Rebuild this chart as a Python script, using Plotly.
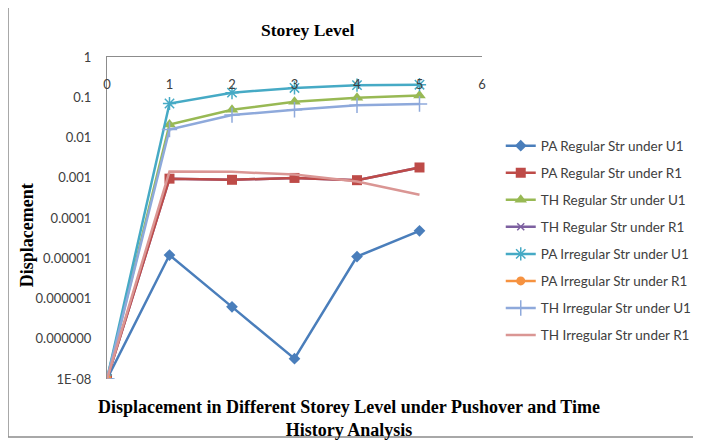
import plotly.graph_objects as go

storey = [0, 1, 2, 3, 4, 5]

pa_reg_u1 = [1e-8, 1.2e-5, 6.2e-7, 3.2e-8, 1.1e-5, 4.8e-5]
pa_reg_r1 = [1e-8, 9.5e-4, 8.9e-4, 9.9e-4, 8.7e-4, 1.8e-3]
th_reg_u1 = [1e-8, 0.021, 0.049, 0.077, 0.097, 0.11]
th_reg_r1 = [1e-8, 9.5e-4, 8.9e-4, 9.9e-4, 8.7e-4, 1.8e-3]
pa_irr_u1 = [1e-8, 0.070, 0.130, 0.170, 0.200, 0.205]
pa_irr_r1 = [1e-8, None, None, None, None, None]
th_irr_u1 = [1e-8, 0.0158, 0.036, 0.049, 0.063, 0.068]
th_irr_r1 = [1e-8, 1.42e-3, 1.40e-3, 1.2e-3, 8.1e-4, 3.8e-4]

names = ["PA Regular Str under U1", "PA Regular Str under R1", "TH Regular Str under U1",
         "TH Regular Str under R1", "PA Irregular Str under U1", "PA Irregular Str under R1",
         "TH Irregular Str under U1", "TH Irregular Str under R1"]

xtickvals = [0, 1, 2, 3, 4, 5, 6]
ytickvals = [1, 0.1, 0.01, 0.001, 0.0001, 0.00001, 0.000001, 0.0000001, 0.00000001]
yticktext = ["1", "0.1", "0.01", "0.001", "0.0001", "0.00001", "0.000001", "0.000000", "1E-08"]

fig = go.Figure()

def add(y, i, color, width, symbol, size, mcolor=None, mline=None):
    marker = dict(symbol=symbol, size=size, color=mcolor or color)
    if mline:
        marker["line"] = dict(color=mline, width=1.5)
    fig.add_trace(go.Scatter(
        x=storey, y=y, name=names[i], mode="lines+markers" if symbol else "lines",
        line=dict(color=color, width=width), marker=marker,
        legendrank=i + 1, legendgroup=str(i), connectgaps=False))

# hidden series drawn first (beneath)
add(th_reg_r1, 3, "#7D60A0", 2.5, "x-thin-open", 7, mline="#7D60A0")
add(pa_reg_u1, 0, "#4A7EBB", 2.5, "diamond", 9)
add(pa_reg_r1, 1, "#BE4B48", 2.5, "square", 10)
add(th_reg_u1, 2, "#98B954", 2.5, "triangle-up", 11)
add(pa_irr_u1, 4, "#46AAC5", 2.5, "asterisk-open", 11, mline="#9DD9EA")
add(pa_irr_r1, 5, "#F69240", 2.5, "circle", 9)
add(th_irr_u1, 6, "#8EA9DB", 2.5, "cross-thin-open", 11, mline="#A9C0E4")
add(th_irr_r1, 7, "#DA9694", 2.5, None, 1)

fig.update_xaxes(range=[0, 6], tickvals=xtickvals, side="top", showgrid=False, zeroline=False,
                 showline=True, linecolor="#8C8C8C", linewidth=1, ticks="",
                 ticklabelposition="outside", ticklabelstandoff=-38, ticklabeloverflow="allow",
                 automargin=False,
                 tickfont=dict(family="Lato", size=13, color="#404040"))
fig.update_yaxes(type="log", range=[-8, 0], tickvals=ytickvals, ticktext=yticktext,
                 showgrid=False, zeroline=False, showline=True, linecolor="#8C8C8C",
                 linewidth=1, ticks="", ticklabelstandoff=12, automargin=False,
                 ticklabeloverflow="allow",
                 tickfont=dict(family="Lato", size=13, color="#404040"))

fig.add_annotation(text="<b>Storey Level</b>", xref="paper", yref="paper", x=0.535, y=1.084,
                   xanchor="center", yanchor="middle", showarrow=False,
                   font=dict(family="Liberation Serif", size=17.5, color="black"))
fig.add_annotation(text="<b>Displacement</b>", xref="paper", yref="paper", x=-0.213, y=0.447,
                   xanchor="center", yanchor="middle", textangle=-90, showarrow=False,
                   font=dict(family="Liberation Serif", size=18, color="black"))
fig.add_annotation(text="<b>Displacement in Different Storey Level under Pushover and Time<br>History Analysis</b>",
                   xref="paper", yref="paper", x=0.645, y=-0.1227, xanchor="center", yanchor="middle",
                   showarrow=False, font=dict(family="Liberation Serif", size=18, color="black"))

fig.add_shape(type="rect", xref="paper", yref="paper", x0=-0.264, x1=1.6, y0=-0.18, y1=1.158,
              line=dict(color="#8C8C8C", width=1.5))

fig.update_layout(
    width=701, height=440, paper_bgcolor="white", plot_bgcolor="white",
    margin=dict(l=99, r=227, t=49, b=69, autoexpand=False),
    showlegend=True,
    legend=dict(x=1.05, xanchor="left", y=0.772, yanchor="top", tracegroupgap=6.5,
                font=dict(family="Lato", size=13.5, color="#404040"), itemwidth=30),
)

fig.write_html("out.html")
